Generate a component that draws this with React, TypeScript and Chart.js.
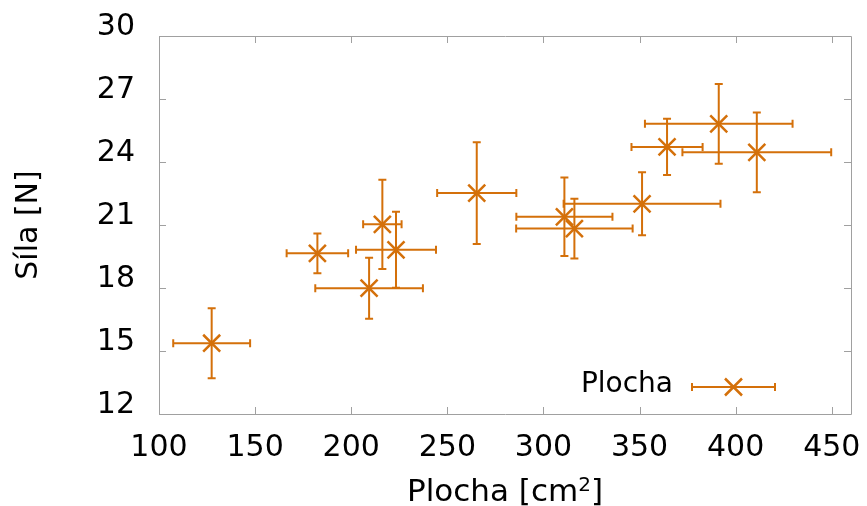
import React, { useEffect, useRef } from "react";
import { Chart, registerables } from "chart.js";

Chart.register(...registerables);

// Data (Plocha [cm²] vs Síla [N]) with errors
const areaX = [127.4, 182.4, 209.3, 223.3, 216.2, 265.3, 310.9, 316.1, 351.3, 364.3, 391.2, 411.0];
const areaErr = [20.0, 16.0, 28.0, 20.8, 10.0, 20.6, 25.0, 30.3, 40.8, 18.5, 38.4, 38.7];
const forceY = [15.37, 19.65, 17.99, 19.82, 21.03, 22.52, 21.39, 20.83, 22.01, 24.72, 25.82, 24.46];
const forceErr = [1.67, 0.95, 1.45, 1.81, 2.13, 2.42, 1.87, 1.42, 1.5, 1.34, 1.9, 1.9];

const xTicks = [100, 150, 200, 250, 300, 350, 400, 450];
const yTicks = [12, 15, 18, 21, 24, 27, 30];

const seriesLabel = "Plocha";
const xTitleMain = "Plocha [cm";
const xTitleSup = "2";
const xTitleEnd = "]";
const yTitle = "Síla [N]";

const COLOR = "#d4700a";
const FRAME = "#a0a0a0";
const FONT = "'DejaVu Sans', sans-serif";

const errorBarsPlugin = {
  id: "errorBars",
  beforeDatasetsDraw(chart: any) {
    const { ctx, scales } = chart;
    const xs = scales.x;
    const ys = scales.y;
    const cap = 4;
    ctx.save();
    ctx.strokeStyle = COLOR;
    ctx.lineWidth = 2;
    for (let i = 0; i < areaX.length; i++) {
      const cx = xs.getPixelForValue(areaX[i]);
      const cy = ys.getPixelForValue(forceY[i]);
      const x1 = xs.getPixelForValue(areaX[i] - areaErr[i]);
      const x2 = xs.getPixelForValue(areaX[i] + areaErr[i]);
      const y1 = ys.getPixelForValue(forceY[i] - forceErr[i]);
      const y2 = ys.getPixelForValue(forceY[i] + forceErr[i]);
      ctx.beginPath();
      ctx.moveTo(x1, cy);
      ctx.lineTo(x2, cy);
      ctx.moveTo(x1, cy - cap);
      ctx.lineTo(x1, cy + cap);
      ctx.moveTo(x2, cy - cap);
      ctx.lineTo(x2, cy + cap);
      ctx.moveTo(cx, y1);
      ctx.lineTo(cx, y2);
      ctx.moveTo(cx - cap, y1);
      ctx.lineTo(cx + cap, y1);
      ctx.moveTo(cx - cap, y2);
      ctx.lineTo(cx + cap, y2);
      ctx.stroke();
    }
    ctx.restore();
  },
};

const framePlugin = {
  id: "frameTicks",
  afterDraw(chart: any) {
    const { ctx, chartArea, scales } = chart;
    const { left, right, top, bottom } = chartArea;
    const tl = 7;
    ctx.save();
    ctx.strokeStyle = FRAME;
    ctx.lineWidth = 1;
    ctx.beginPath();
    ctx.rect(Math.round(left) + 0.5, Math.round(top) + 0.5, Math.round(right - left), Math.round(bottom - top));
    for (const v of xTicks) {
      const px = Math.round(scales.x.getPixelForValue(v)) + 0.5;
      ctx.moveTo(px, bottom);
      ctx.lineTo(px, bottom - tl);
      ctx.moveTo(px, top);
      ctx.lineTo(px, top + tl);
    }
    for (const v of yTicks) {
      const py = Math.round(scales.y.getPixelForValue(v)) + 0.5;
      ctx.moveTo(left, py);
      ctx.lineTo(left + tl, py);
      ctx.moveTo(right, py);
      ctx.lineTo(right - tl, py);
    }
    ctx.stroke();

    // x axis title with superscript
    ctx.fillStyle = "#000";
    ctx.textBaseline = "alphabetic";
    ctx.textAlign = "left";
    const mainFont = `31px ${FONT}`;
    const supFont = `20px ${FONT}`;
    ctx.font = mainFont;
    const w1 = ctx.measureText(xTitleMain).width;
    const w3 = ctx.measureText(xTitleEnd).width;
    ctx.font = supFont;
    const w2 = ctx.measureText(xTitleSup).width;
    const total = w1 + w2 + w3;
    const cxTitle = (left + right) / 2;
    const base = 501;
    let tx = cxTitle - total / 2;
    ctx.font = mainFont;
    ctx.fillText(xTitleMain, tx, base);
    tx += w1;
    ctx.font = supFont;
    ctx.fillText(xTitleSup, tx, base - 10);
    tx += w2;
    ctx.font = mainFont;
    ctx.fillText(xTitleEnd, tx, base);

    // legend (inside, lower right)
    const ly = bottom - 27;
    const lx1 = right - 159;
    const lx2 = right - 76;
    const lmid = (lx1 + lx2) / 2;
    ctx.font = `28px ${FONT}`;
    ctx.textAlign = "right";
    ctx.fillText(seriesLabel, lx1 - 19, ly + 5);
    ctx.strokeStyle = COLOR;
    ctx.lineWidth = 2;
    ctx.beginPath();
    ctx.moveTo(lx1, ly);
    ctx.lineTo(lx2, ly);
    ctx.moveTo(lx1, ly - 4);
    ctx.lineTo(lx1, ly + 4);
    ctx.moveTo(lx2, ly - 4);
    ctx.lineTo(lx2, ly + 4);
    ctx.stroke();
    ctx.lineWidth = 2.5;
    ctx.beginPath();
    const r = 8.5;
    ctx.moveTo(lmid - r, ly - r);
    ctx.lineTo(lmid + r, ly + r);
    ctx.moveTo(lmid - r, ly + r);
    ctx.lineTo(lmid + r, ly - r);
    ctx.stroke();
    ctx.restore();
  },
};

export default function App() {
  const ref = useRef<HTMLCanvasElement | null>(null);

  useEffect(() => {
    if (!ref.current) return;
    const points = areaX.map((x, i) => ({ x, y: forceY[i] }));
    const chart = new Chart(ref.current, {
      type: "scatter",
      data: {
        datasets: [
          {
            label: seriesLabel,
            data: points,
            pointStyle: "crossRot",
            pointRadius: 12,
            pointHoverRadius: 12,
            pointBorderWidth: 2.5,
            borderColor: COLOR,
            backgroundColor: COLOR,
          },
        ],
      },
      options: {
        animation: false,
        responsive: true,
        maintainAspectRatio: false,
        layout: { padding: { top: 36, right: 16, bottom: 0, left: 0 } },
        plugins: {
          legend: { display: false },
          tooltip: { enabled: false },
        },
        scales: {
          x: {
            type: "linear",
            min: 100,
            max: 460,
            afterBuildTicks: (scale: any) => {
              scale.ticks = xTicks.map((v) => ({ value: v }));
            },
            afterFit: (scale: any) => {
              scale.height = 92;
              scale.paddingLeft = 0;
              scale.paddingRight = 0;
            },
            grid: { display: false },
            border: { display: false },
            ticks: {
              color: "#000",
              padding: 8,
              maxRotation: 0,
              autoSkip: false,
              font: { family: FONT, size: 30 },
            },
            title: { display: false },
          },
          y: {
            type: "linear",
            min: 12,
            max: 30,
            afterBuildTicks: (scale: any) => {
              scale.ticks = yTicks.map((v) => ({ value: v }));
            },
            afterFit: (scale: any) => {
              scale.width = 159;
              scale.paddingTop = 0;
              scale.paddingBottom = 0;
            },
            grid: { display: false },
            border: { display: false },
            ticks: {
              color: "#000",
              padding: 16,
              labelOffset: -8.5,
              autoSkip: false,
              font: { family: FONT, size: 30 },
            },
            title: {
              display: true,
              text: yTitle,
              color: "#000",
              padding: { top: 11, bottom: 0 },
              font: { family: FONT, size: 30 },
            },
          },
        },
      },
      plugins: [errorBarsPlugin, framePlugin],
    });
    return () => chart.destroy();
  }, []);

  return (
    <div style={{ position: "absolute", left: 0, top: 0, width: 867, height: 506, background: "#fff" }}>
      <canvas ref={ref} />
    </div>
  );
}
